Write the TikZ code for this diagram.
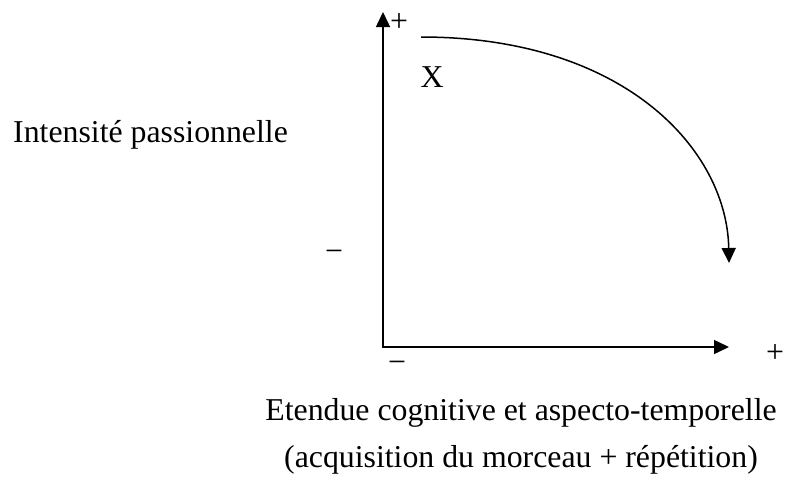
\documentclass[tikz,border=0pt]{standalone}
\usepackage{fontspec}
\setmainfont{Liberation Serif}
\usetikzlibrary{arrows.meta}
\begin{document}
\begin{tikzpicture}[
        x=1pt, y=-1pt,
        axis_line/.style={line width=1.5pt, {Triangle[length=15pt,width=14pt]}-{Triangle[length=15pt,width=14pt]}},
        curve_arrow/.style={line width=1.5pt, -{Triangle[length=15pt,width=14pt]}},
        sign/.style={inner sep=0pt, anchor=base, font=\fontsize{31.8}{38}\selectfont},
        label_text/.style={inner sep=0pt, font=\fontsize{31.8}{38}\selectfont}
    ]
    \useasboundingbox (0,0) rectangle (785,480);

    % Points des axes et de la courbe (coordonnées en pixels)
    \coordinate (origin) at (383, 347);
    \coordinate (ytip) at (383, 12);
    \coordinate (xtip) at (729, 347);
    \coordinate (cstart) at (421, 37);
    \coordinate (cend) at (729, 263);

    % Les deux axes (flèches aux deux bouts)
    \draw[axis_line] (ytip) -- (origin) -- (xtip);

    % Courbe descendante avec flèche
    \draw[curve_arrow] (cstart) .. controls (625, 37) and (727, 150) .. (cend);

    % Signes sur les axes (position de la ligne de base)
    \node[sign] (yplus) at (399, 31) {+};
    \node[sign] (yminus) at (334, 261) {−};
    \node[sign] (xminus) at (397, 372) {−};
    \node[sign] (xplus) at (775, 362) {+};
    \node[sign] (xpoint) at (432, 87) {X};

    % Titres des axes
    \node[label_text, anchor=base west] (ylabel) at (13, 142) {Intensité passionnelle};
    \node[label_text, anchor=base] (xlabel) at (521, 420) {Etendue cognitive et aspecto-temporelle};
    \node[label_text, anchor=base] (xlabelsub) at (521, 467) {(acquisition du morceau + répétition)};

    \end{tikzpicture}
\end{document}
